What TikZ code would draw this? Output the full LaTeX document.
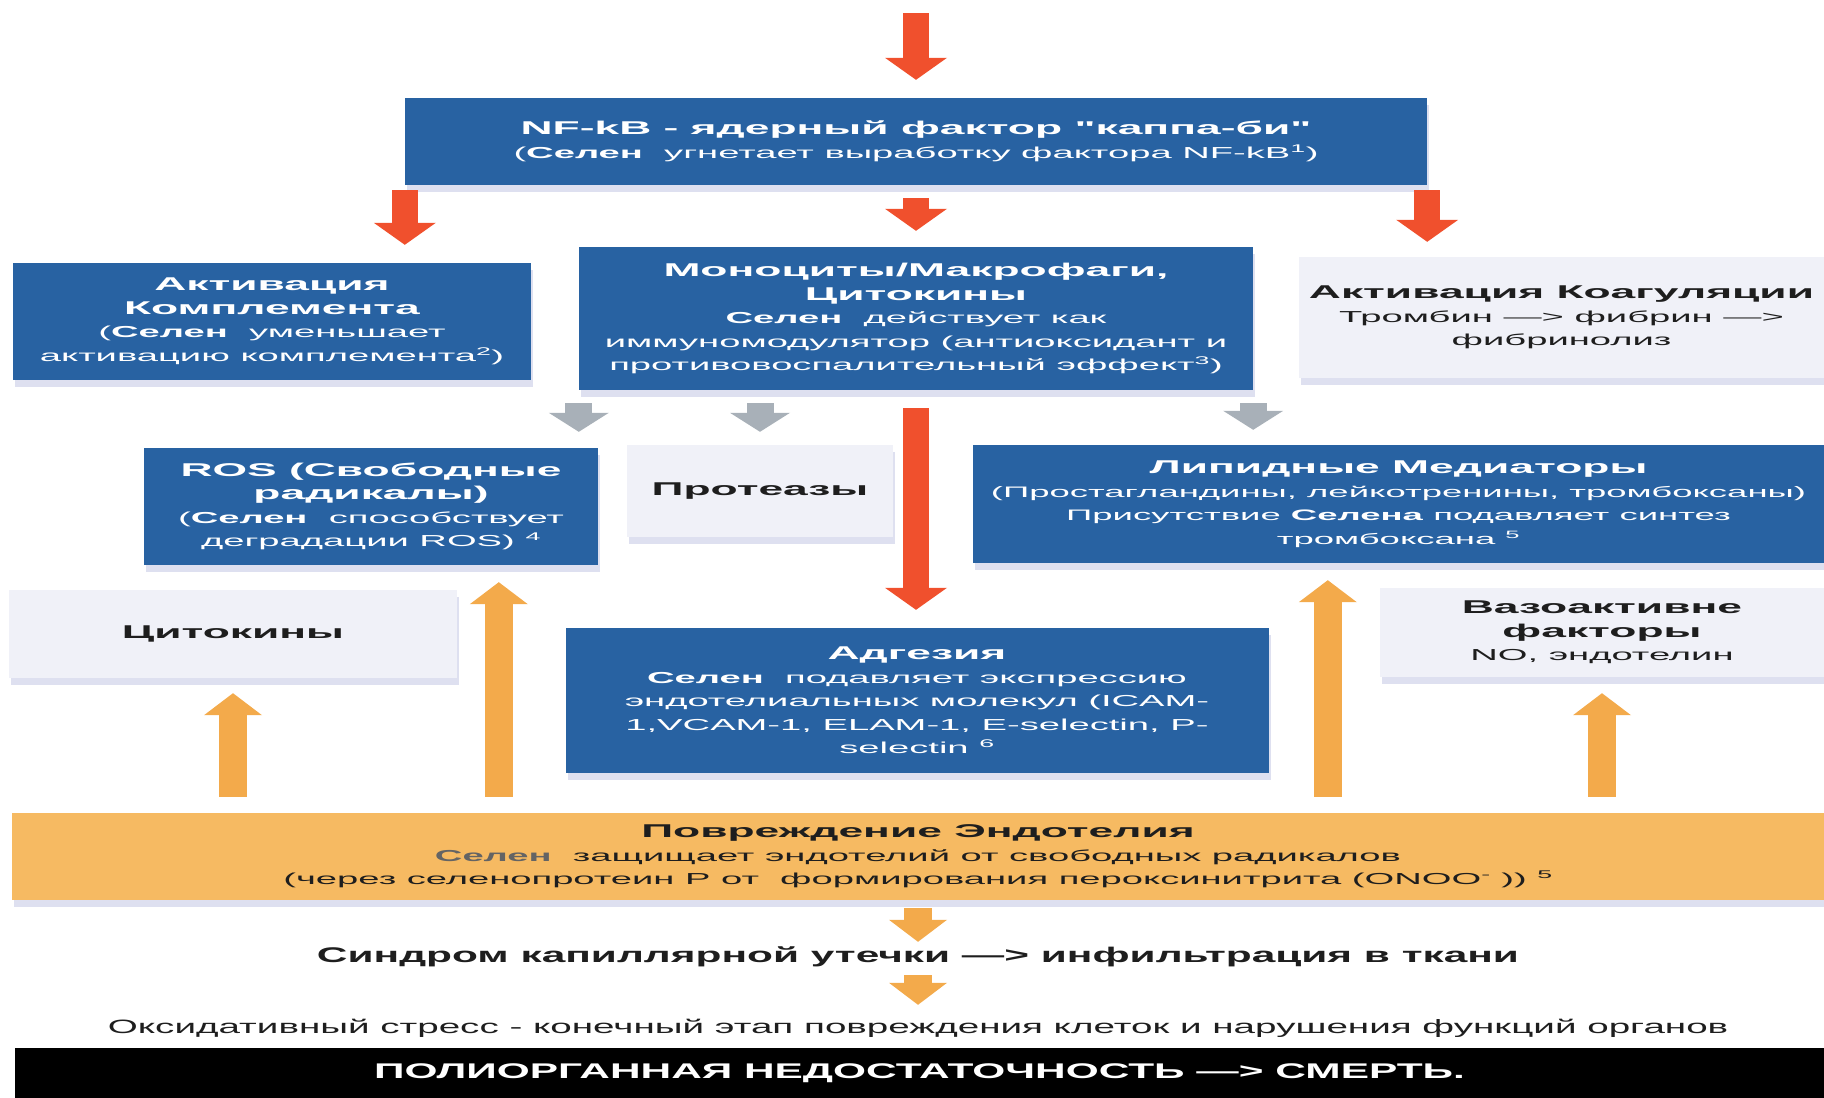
\documentclass[tikz,border=0pt]{standalone}
\usepackage{fontspec}
\setmainfont{Liberation Sans}[FakeStretch=2.4,Ligatures=TeXOff]
\newfontfamily\lowfont{Liberation Sans}[FakeStretch=2.0,Ligatures=TeXOff]
\usetikzlibrary{arrows.meta,calc,shadows}
\definecolor{boxblue}{RGB}{40,98,162}
\definecolor{boxlight}{RGB}{240,241,248}
\definecolor{arrred}{RGB}{240,80,45}
\definecolor{arrgray}{RGB}{168,176,184}
\definecolor{arrorange}{RGB}{243,170,75}
\definecolor{barorange}{RGB}{246,186,98}
\definecolor{shadowblue}{RGB}{200,204,230}
\definecolor{selgray}{RGB}{100,100,100}
\definecolor{txtdark}{RGB}{30,30,30}
\newcommand{\hd}[1]{{\fontsize{18.5}{23.5}\selectfont\bfseries #1}}
\newcommand{\sel}{\textbf{Селен}}

\begin{document}
\begin{tikzpicture}[x=1pt,y=-1pt,
	box/.style={inner sep=0pt,align=center,font=\fontsize{15.9}{23.5}\selectfont,
		drop shadow={shadow xshift=2pt,shadow yshift=-7pt,fill=shadowblue,opacity=.6}},
	bluebox/.style={box,fill=boxblue,text=white},
	lightbox/.style={box,fill=boxlight,text=txtdark},
	plain/.style={inner sep=0pt,align=center,text=txtdark},
	redarrow/.style={color=arrred,line width=26pt,-{Triangle[width=62pt,length=22pt,line width=0pt]}},
	grayarrow/.style={color=arrgray,line width=27pt,-{Triangle[width=60pt,length=19pt,line width=0pt]}},
	orangearrow/.style={color=arrorange,line width=28pt,-{Triangle[width=58pt,length=22pt,line width=0pt]}}]
	\useasboundingbox[fill=white] (0,0) rectangle (1824,1098);
	\coordinate (src) at (916,13);
	\node[bluebox,minimum width=1022pt,minimum height=87pt] (nfkb) at (916,141.5)
		{\hd{NF-kB - ядерный фактор "каппа-би"}\\(\sel\ \ угнетает выработку фактора NF-kB\textsuperscript{1})};
	\node[bluebox,minimum width=518pt,minimum height=117pt] (compl) at (272,321.5)
		{\hd{Активация}\\\hd{Комплемента}\\(\sel\ \ уменьшает\\активацию комплемента\textsuperscript{2})};
	\node[bluebox,minimum width=674pt,minimum height=143pt] (mono) at (916,318.5)
		{\hd{Моноциты/Макрофаги,}\\\hd{Цитокины}\\\sel\ \ действует как\\иммуномодулятор (антиоксидант и\\противовоспалительный эффект\textsuperscript{3})};
	\node[lightbox,minimum width=525pt,minimum height=121pt] (coag) at (1561.5,317.5)
		{\hd{Активация Коагуляции}\\Тромбин —> фибрин —>\\фибринолиз};
	\node[bluebox,minimum width=454pt,minimum height=117pt] (ros) at (371,506.5)
		{\hd{ROS (Свободные}\\\hd{радикалы)}\\(\sel\ \ способствует\\деградации ROS) \textsuperscript{4}};
	\node[lightbox,minimum width=266pt,minimum height=92pt] (prot) at (760,491) {\hd{Протеазы}};
	\node[bluebox,minimum width=851pt,minimum height=118pt,font=\fontsize{15.2}{23.5}\selectfont] (lipid) at (1398.5,504)
		{\hd{Липидные Медиаторы}\\(Простагландины, лейкотренины, тромбоксаны)\\Присутствие \textbf{Селена} подавляет синтез\\тромбоксана \textsuperscript{5}};
	\node[lightbox,minimum width=448pt,minimum height=88pt] (cyto) at (233,634) {\hd{Цитокины}};
	\node[bluebox,minimum width=703pt,minimum height=145pt] (adh) at (917,700.5)
		{\hd{Адгезия}\\\sel\ \ подавляет экспрессию\\эндотелиальных молекул (ICAM-\\1,VCAM-1, ELAM-1, E-selectin, P-\\selectin \textsuperscript{6}};
	\node[lightbox,minimum width=444pt,minimum height=89pt] (vaso) at (1602,632.5)
		{\hd{Вазоактивне}\\\hd{факторы}\\NO, эндотелин};
	\node[box,fill=barorange,text=txtdark,minimum width=1812pt,minimum height=87pt] (damage) at (918,856.5)
		{\hd{Повреждение Эндотелия}\\{\color{selgray}\sel}\ \ защищает эндотелий от свободных радикалов\\(через селенопротеин Р от\ \ формирования пероксинитрита (ONOO\textsuperscript{-}\ )) \textsuperscript{5}};
	\node[plain,anchor=base,text height=15pt,text depth=4pt,font=\lowfont\fontsize{21.2}{24}\selectfont\bfseries] (leak) at (918,962)
		{Синдром капиллярной утечки —> инфильтрация в ткани};
	\node[plain,anchor=base,text height=14pt,text depth=4pt,font=\lowfont\fontsize{19.3}{22}\selectfont] (oxid) at (918,1033)
		{Оксидативный стресс - конечный этап повреждения клеток и нарушения функций органов};
	\node[fill=black,text=white,inner sep=0pt,minimum width=1809pt,minimum height=50pt,font=\lowfont\fontsize{21.2}{24}\selectfont\bfseries] (death) at (919.5,1073)
		{ПОЛИОРГАННАЯ НЕДОСТАТОЧНОСТЬ —> СМЕРТЬ.};
	\coordinate (rosup) at ($(ros.south west)+(355,0)$);
	\coordinate (lipidup) at ($(lipid.south west)+(355,0)$);
	\path
		(src) edge[redarrow,shorten >=18pt] (nfkb.north)
		(nfkb.south west) edge[redarrow,shorten <=5pt,shorten >=18pt] (nfkb.south west |- compl.north)
		(nfkb.south) edge[redarrow,shorten <=13pt,shorten >=16pt] (mono.north)
		(nfkb.south east) edge[redarrow,shorten <=5pt,shorten >=15pt] (nfkb.south east |- coag.north)
		(mono.south) edge[redarrow,shorten <=18pt,shorten >=18pt] (mono.south |- adh.north);
	\path
		(mono.south west) edge[grayarrow,shorten <=13pt,shorten >=16pt] (mono.south west |- ros.north)
		(prot.north |- mono.south) edge[grayarrow,shorten <=13pt,shorten >=13pt] (prot.north)
		(mono.south east) edge[grayarrow,shorten <=13pt,shorten >=15pt] (mono.south east |- lipid.north);
	\path
		(cyto.south |- damage.north) edge[orangearrow,shorten <=16pt,shorten >=15pt] (cyto.south)
		(rosup |- damage.north) edge[orangearrow,shorten <=16pt,shorten >=17pt] (rosup)
		(lipidup |- damage.north) edge[orangearrow,shorten <=16pt,shorten >=17pt] (lipidup)
		(vaso.south |- damage.north) edge[orangearrow,shorten <=16pt,shorten >=16pt] (vaso.south)
		(damage.south) edge[orangearrow,shorten <=8pt,shorten >=5pt] (leak.north)
		(leak.south) edge[orangearrow,shorten <=9pt,shorten >=14pt] (oxid.north);
\end{tikzpicture}
\end{document}
